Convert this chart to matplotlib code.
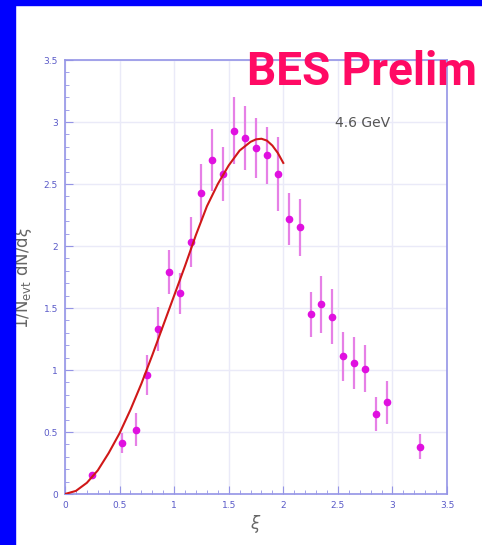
import numpy as np
import matplotlib.pyplot as plt
from matplotlib.patches import Rectangle
from matplotlib.ticker import MultipleLocator

# Datos medidos (xi, 1/N dN/dxi, error)
xi = [0.25, 0.52, 0.65, 0.75, 0.85, 0.95, 1.05, 1.15, 1.25, 1.35, 1.45, 1.55, 1.65, 1.75,
      1.85, 1.95, 2.05, 2.15, 2.25, 2.35, 2.45, 2.55, 2.65, 2.75, 2.85, 2.95, 3.25]
dn = [0.15, 0.41, 0.52, 0.96, 1.33, 1.79, 1.62, 2.03, 2.43, 2.69, 2.58, 2.93, 2.87, 2.79,
      2.73, 2.58, 2.215, 2.15, 1.45, 1.53, 1.43, 1.11, 1.06, 1.01, 0.645, 0.74, 0.38]
err = [0.03, 0.08, 0.13, 0.16, 0.175, 0.18, 0.165, 0.20, 0.23, 0.25, 0.22, 0.27, 0.26, 0.24,
       0.23, 0.30, 0.21, 0.23, 0.18, 0.23, 0.22, 0.20, 0.21, 0.19, 0.135, 0.175, 0.10]

# Curva de ajuste
fit_x = [0.0, 0.1, 0.2, 0.3, 0.4, 0.5, 0.6, 0.7, 0.8, 0.9, 1.0, 1.1, 1.2, 1.3, 1.4, 1.5,
         1.6, 1.7, 1.75, 1.8, 1.85, 1.9, 1.95, 2.0]
fit_y = [0.0, 0.025, 0.09, 0.19, 0.33, 0.49, 0.68, 0.89, 1.12, 1.36, 1.60, 1.84, 2.09, 2.32,
         2.50, 2.65, 2.77, 2.84, 2.86, 2.865, 2.85, 2.81, 2.75, 2.67]

ticks = [0, 0.5, 1, 1.5, 2, 2.5, 3, 3.5]
tick_labels = ['0', '0.5', '1', '1.5', '2', '2.5', '3', '3.5']

fig = plt.figure(figsize=(4.82, 5.45), dpi=100)
fig.patch.set_facecolor('white')

# Marco azul
fig.patches.append(Rectangle((0, 0), 15 / 482, 1, transform=fig.transFigure,
                             color='#0000ff', zorder=0))
fig.patches.append(Rectangle((0, 1 - 5 / 545), 1, 5 / 545, transform=fig.transFigure,
                             color='#0000ff', zorder=0))

ax = fig.add_axes([65 / 482, 1 - 494 / 545, 382 / 482, 434 / 545])
axis_col = '#9494e6'
for s in ax.spines.values():
    s.set_color(axis_col)
    s.set_linewidth(1.2)

ax.set_xlim(0, 3.5)
ax.set_ylim(0, 3.5)
ax.set_xticks(ticks)
ax.set_xticklabels(tick_labels)
ax.set_yticks(ticks)
ax.set_yticklabels(tick_labels)
ax.xaxis.set_minor_locator(MultipleLocator(0.1))
ax.yaxis.set_minor_locator(MultipleLocator(0.1))
ax.tick_params(which='both', direction='in', color=axis_col, labelcolor='#5a5ac8',
               labelsize=6.5, top=False, right=False)
ax.tick_params(which='major', length=6, pad=5)
ax.tick_params(which='minor', length=3)
ax.grid(True, which='major', color='#eaeaf8', linewidth=1.0)
ax.set_axisbelow(True)

ax.errorbar(xi, dn, yerr=err, fmt='o', color='#e010e0', ecolor='#e680e6',
            elinewidth=1.6, markersize=4.5, capsize=0, zorder=3)
ax.plot(fit_x, fit_y, color='#d01818', linewidth=1.5, zorder=4)

ax.text(2.47, 2.99, '4.6 GeV', color='#555555', fontsize=10, va='center', ha='left')

ax.set_ylabel(r'1/N$_{\rm evt}$ dN/d$\xi$', color='#666666', fontsize=12, labelpad=7)
ax.set_xlabel(r'$\xi$', color='#666666', fontsize=12, labelpad=2)

fig.text(247 / 482, 1 - 85 / 545, 'BES Prelim', color='#ff0a64', fontsize=33,
         fontweight='bold', family='Roboto', ha='left', va='baseline', zorder=10)

fig.savefig('out.png', dpi=100)
